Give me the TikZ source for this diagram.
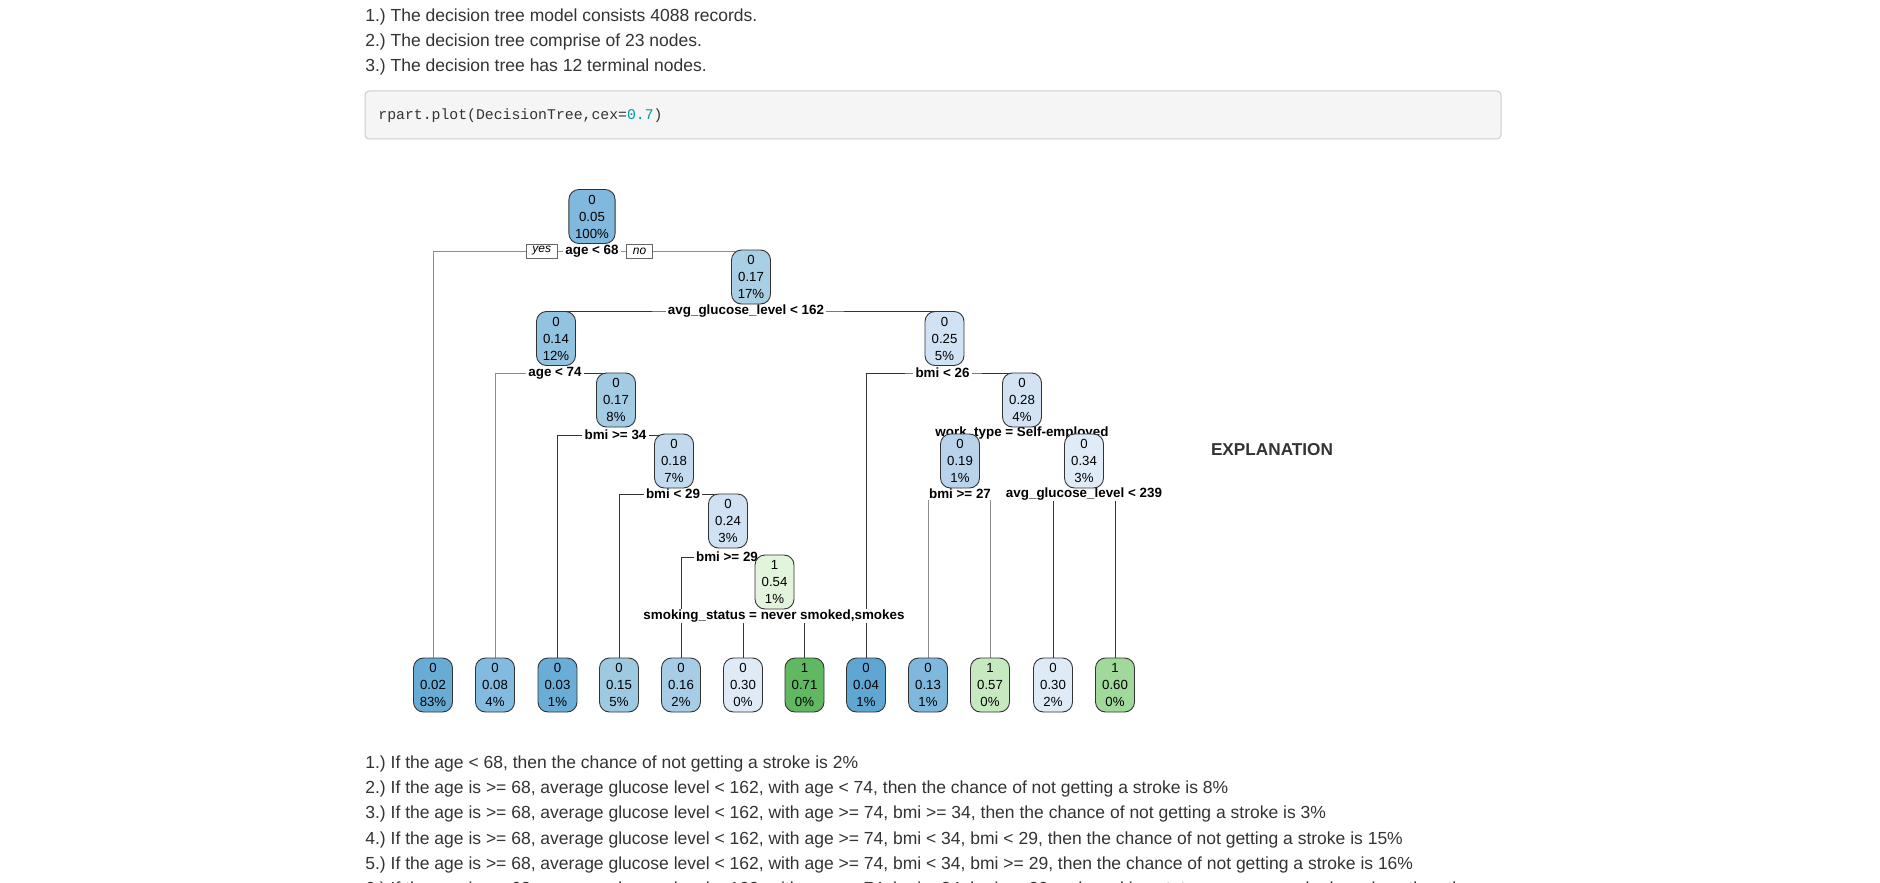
\documentclass[tikz,border=0pt]{standalone}
\usepackage{fontspec}
\setmainfont{Liberation Sans}
\setmonofont{Liberation Mono}
\usetikzlibrary{positioning}
\frenchspacing

\definecolor{txt}{HTML}{333333}
\definecolor{codebg}{HTML}{F5F5F5}
\definecolor{codeline}{HTML}{CCCCCC}
\definecolor{num}{HTML}{009999}

\pgfdeclarelayer{paper}
\pgfdeclarelayer{bg}
\pgfdeclarelayer{lbl}
\pgfsetlayers{paper,bg,lbl,main}

\begin{document}
\begin{tikzpicture}[x=0.5pt,y=-0.5pt,>=latex]
	\tikzset{tnode/.style={draw=black!80,line width=0.45pt,rounded corners=5pt,minimum width=19.5pt,minimum height=27pt,inner xsep=3.1pt,inner ysep=0pt,align=center,font=\fontsize{6.6}{8.5}\selectfont}}
	\tikzset{split/.style={fill=white,inner xsep=1.2pt,inner ysep=0.4pt,font=\bfseries\fontsize{6.7}{7}\selectfont}}
	\tikzset{yesno/.style={draw=black!60,fill=white,line width=0.4pt,inner xsep=3pt,inner ysep=0pt,minimum height=7pt,font=\itshape\fontsize{6}{6}\selectfont}}
	\tikzset{branch/.style={draw=black!80,line width=0.5pt}}
	\tikzset{gbranch/.style={draw=black!45,line width=0.5pt}}
	\tikzset{prose/.style={anchor=west,inner sep=0pt,text=txt,text height=0.6em,text depth=0pt,font=\fontsize{8.75}{10}\selectfont}}

	\begin{pgfonlayer}{paper}
	\fill[white] (0,0) rectangle (1880,883);
	\end{pgfonlayer}
	\useasboundingbox (0,0) rectangle (1880,883);

	% text above
	\node[prose] (t1) at (365,15.5) {1.) The decision tree model consists 4088 records.};
	\node[prose] (t2) at (365,40.7) {2.) The decision tree comprise of 23 nodes.};
	\node[prose] (t3) at (365,65.9) {3.) The decision tree has 12 terminal nodes.};
	\draw[codeline,fill=codebg,line width=0.5pt,rounded corners=2pt] (365,91) rectangle (1501,139);
	\node[anchor=west,inner sep=0pt,text=txt,font=\ttfamily\fontsize{7.4}{9}\selectfont] (code) at (378,115.5) {rpart.plot(DecisionTree,cex=\textcolor{num}{0.7})};

	% inner nodes
	\node[tnode,fill={rgb,255:red,128;green,185;blue,221}] (R) at (592,216.5) {0\\0.05\\100\%};
	\node[tnode,fill={rgb,255:red,169;green,207;blue,229}] (N2) at (751,277) {0\\0.17\\17\%};
	\node[tnode,fill={rgb,255:red,146;green,195;blue,224}] (N3) at (556,338.5) {0\\0.14\\12\%};
	\node[tnode,fill={rgb,255:red,208;green,226;blue,243}] (N4) at (944.5,338.5) {0\\0.25\\5\%};
	\node[tnode,fill={rgb,255:red,164;green,203;blue,228}] (N5) at (616,400) {0\\0.17\\8\%};
	\node[tnode,fill={rgb,255:red,195;green,218;blue,238}] (N6) at (674,461) {0\\0.18\\7\%};
	\node[tnode,fill={rgb,255:red,207;green,225;blue,242}] (N7) at (728,521) {0\\0.24\\3\%};
	\node[tnode,fill={rgb,255:red,227;green,244;blue,221}] (N8) at (774.5,582) {1\\0.54\\1\%};
	\node[tnode,fill={rgb,255:red,211;green,227;blue,243}] (N9) at (1022,400) {0\\0.28\\4\%};
	\node[tnode,fill={rgb,255:red,184;green,211;blue,234}] (N10) at (960,461) {0\\0.19\\1\%};
	\node[tnode,fill={rgb,255:red,223;green,235;blue,247}] (N11) at (1084,461) {0\\0.34\\3\%};

	% leaves
	\node[tnode,fill={rgb,255:red,104;green,172;blue,214}] (L1) at (433,685) {0\\0.02\\83\%};
	\node[tnode,fill={rgb,255:red,130;green,187;blue,223}] (L2) at (495,685) {0\\0.08\\4\%};
	\node[tnode,fill={rgb,255:red,106;green,173;blue,214}] (L3) at (557.5,685) {0\\0.03\\1\%};
	\node[tnode,fill={rgb,255:red,158;green,202;blue,225}] (L4) at (619,685) {0\\0.15\\5\%};
	\node[tnode,fill={rgb,255:red,166;green,205;blue,229}] (L5) at (681,685) {0\\0.16\\2\%};
	\node[tnode,fill={rgb,255:red,222;green,235;blue,247}] (L6) at (743,685) {0\\0.30\\0\%};
	\node[tnode,fill={rgb,255:red,96;green,184;blue,96}] (L7) at (804.5,685) {1\\0.71\\0\%};
	\node[tnode,fill={rgb,255:red,95;green,166;blue,211}] (L8) at (866,685) {0\\0.04\\1\%};
	\node[tnode,fill={rgb,255:red,127;green,184;blue,220}] (L9) at (928,685) {0\\0.13\\1\%};
	\node[tnode,fill={rgb,255:red,199;green,233;blue,192}] (L10) at (990,685) {1\\0.57\\0\%};
	\node[tnode,fill={rgb,255:red,222;green,235;blue,247}] (L11) at (1053,685) {0\\0.30\\2\%};
	\node[tnode,fill={rgb,255:red,161;green,217;blue,155}] (L12) at (1115,685) {1\\0.60\\0\%};

	% split labels
	\begin{pgfonlayer}{lbl}
	\node[split] (s1) at (592,251) {age < 68};
	\node[yesno,left=2.5pt of s1] (yes) {yes};
	\node[yesno,right=2.5pt of s1] (no) {no};
	\node[split] (s2) at (746,311) {avg\_glucose\_level < 162};
	\node[split] (s3) at (555,373) {age < 74};
	\node[split] (s4) at (615.5,435) {bmi >= 34};
	\node[split] (s5) at (673,494) {bmi < 29};
	\node[split] (s6) at (727,557) {bmi >= 29};
	\node[split] (s7) at (774,616) {smoking\_status = never smoked,smokes};
	\node[split] (s8) at (942.5,373) {bmi < 26};
	\node[split] (s9) at (1022,433) {work\_type = Self-employed};
	\node[split] (s10) at (960,494) {bmi >= 27};
	\node[split] (s11) at (1084,494) {avg\_glucose\_level < 239};
	\end{pgfonlayer}

	% branches
	\begin{pgfonlayer}{bg}
	\draw[gbranch] (L1.north) |- (s1.center);
	\draw[gbranch] (s1.center) -| (N2.north);
	\draw[branch] (N3.north) |- (s2.center) -| (N4.north);
	\draw[gbranch] (L2.north) |- (s3.center);
	\draw[branch] (s3.center) -| (N5.north);
	\draw[branch] (L3.north) |- (s4.center) -| (N6.north);
	\draw[branch] (L4.north) |- (s5.center) -| (N7.north);
	\draw[branch] (L5.north) |- (s6.center) -| (N8.north);
	\draw[branch] (L6.north) |- (s7.center) -| (L7.north);
	\draw[branch] (L8.north) |- (s8.center) -| (N9.north);
	\draw[branch] (N10.north) |- (s9.center) -| (N11.north);
	\draw[gbranch] (L9.north) |- (s10.center) -| (L10.north);
	\draw[branch] (L11.north) |- (s11.center) -| (L12.north);
	\end{pgfonlayer}

	\node[text=txt,font=\bfseries\fontsize{8.6}{10}\selectfont] (expl) at (1272,450) {EXPLANATION};

	% text below
	\node[prose] (b1) at (365,762.5) {1.) If the age < 68, then the chance of not getting a stroke is 2\%};
	\node[prose] (b2) at (365,787.7) {2.) If the age is >= 68, average glucose level < 162, with age < 74, then the chance of not getting a stroke is 8\%};
	\node[prose] (b3) at (365,812.9) {3.) If the age is >= 68, average glucose level < 162, with age >= 74, bmi >= 34, then the chance of not getting a stroke is 3\%};
	\node[prose] (b4) at (365,838.1) {4.) If the age is >= 68, average glucose level < 162, with age >= 74, bmi < 34, bmi < 29, then the chance of not getting a stroke is 15\%};
	\node[prose] (b5) at (365,863.3) {5.) If the age is >= 68, average glucose level < 162, with age >= 74, bmi < 34, bmi >= 29, then the chance of not getting a stroke is 16\%};
	\node[prose] (b6) at (365,888.5) {6.) If the age is >= 68, average glucose level < 162, with age >= 74, bmi < 34, bmi >= 29 and smoking status = never smoked,smokes, then the};
\end{tikzpicture}
\end{document}
